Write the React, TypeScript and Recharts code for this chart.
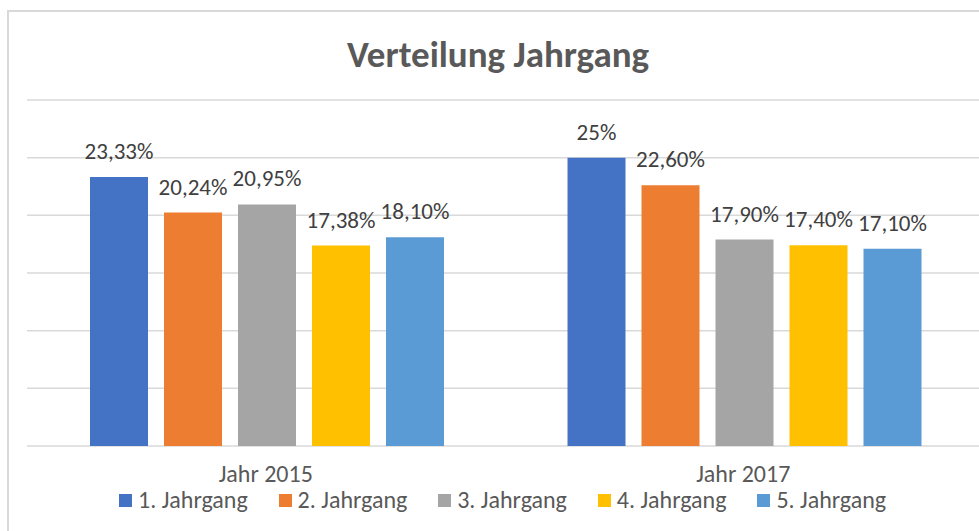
import { BarChart, Bar, XAxis, YAxis, CartesianGrid, LabelList } from 'recharts'

const years = ['Jahr 2015', 'Jahr 2017']
const seriesNames = ['1. Jahrgang', '2. Jahrgang', '3. Jahrgang', '4. Jahrgang', '5. Jahrgang']
const jahrgang1 = [23.33, 25]
const jahrgang2 = [20.24, 22.6]
const jahrgang3 = [20.95, 17.9]
const jahrgang4 = [17.38, 17.4]
const jahrgang5 = [18.1, 17.1]
const yTicks = [0, 5, 10, 15, 20, 25, 30]

const colors = ['#4472c4', '#ed7d31', '#a5a5a5', '#ffc000', '#5b9bd5']
const FONT = 'Carlito, "Open Sans", sans-serif'

const seriesValues = [jahrgang1, jahrgang2, jahrgang3, jahrgang4, jahrgang5]
const data = years.map((year, i) => {
  const row: Record<string, string | number> = { year }
  seriesNames.forEach((name, s) => {
    row[name] = seriesValues[s][i]
  })
  return row
})

const formatPct = (v: any) => {
  const n = Number(v)
  return Number.isInteger(n) ? `${n}%` : `${n.toFixed(2).replace('.', ',')}%`
}

export default function App() {
  return (
    <div style={{ position: 'absolute', left: 0, top: 0, width: 979, height: 531, overflow: 'hidden', background: '#fff', fontFamily: FONT }}>
      <div style={{ position: 'absolute', left: 7, top: 10, width: 1000, height: 600, border: '2px solid #d9d9d9', boxSizing: 'border-box' }} />
      <div style={{ position: 'absolute', left: 0, top: 32, width: 996, textAlign: 'center', fontSize: 37, lineHeight: '46px', fontWeight: 700, color: '#595959' }}>
        Verteilung Jahrgang
      </div>
      <div style={{ position: 'absolute', left: 0, top: 0 }}>
        <BarChart
          width={990}
          height={531}
          data={data}
          margin={{ top: 100, right: 8, left: 27, bottom: 0 }}
          barCategoryGap={63}
          barGap={16}
        >
          <CartesianGrid vertical={false} stroke="#d9d9d9" strokeWidth={1.5} />
          <YAxis hide domain={[0, 30]} ticks={yTicks} width={0} />
          <XAxis
            dataKey="year"
            height={85}
            axisLine={false}
            tickLine={false}
            tickMargin={13}
            tick={{ fontFamily: FONT, fontSize: 24, fill: '#595959' }}
          />
          {seriesNames.map((name, s) => (
            <Bar key={name} dataKey={name} fill={colors[s]} isAnimationActive={false}>
              <LabelList
                dataKey={name}
                position="top"
                offset={18}
                formatter={formatPct}
                style={{ fontFamily: FONT, fontSize: 23, fill: '#404040' }}
              />
            </Bar>
          ))}
        </BarChart>
      </div>
      <div style={{ position: 'absolute', left: 119, top: 486, display: 'flex' }}>
        {seriesNames.map((name, s) => (
          <div key={name} style={{ width: 159.6, display: 'flex', alignItems: 'center', fontSize: 24, lineHeight: '28px', color: '#595959' }}>
            <span style={{ width: 13, height: 13, background: colors[s], marginRight: 6, display: 'inline-block', flexShrink: 0 }} />
            <span style={{ whiteSpace: 'nowrap' }}>{name}</span>
          </div>
        ))}
      </div>
    </div>
  )
}
